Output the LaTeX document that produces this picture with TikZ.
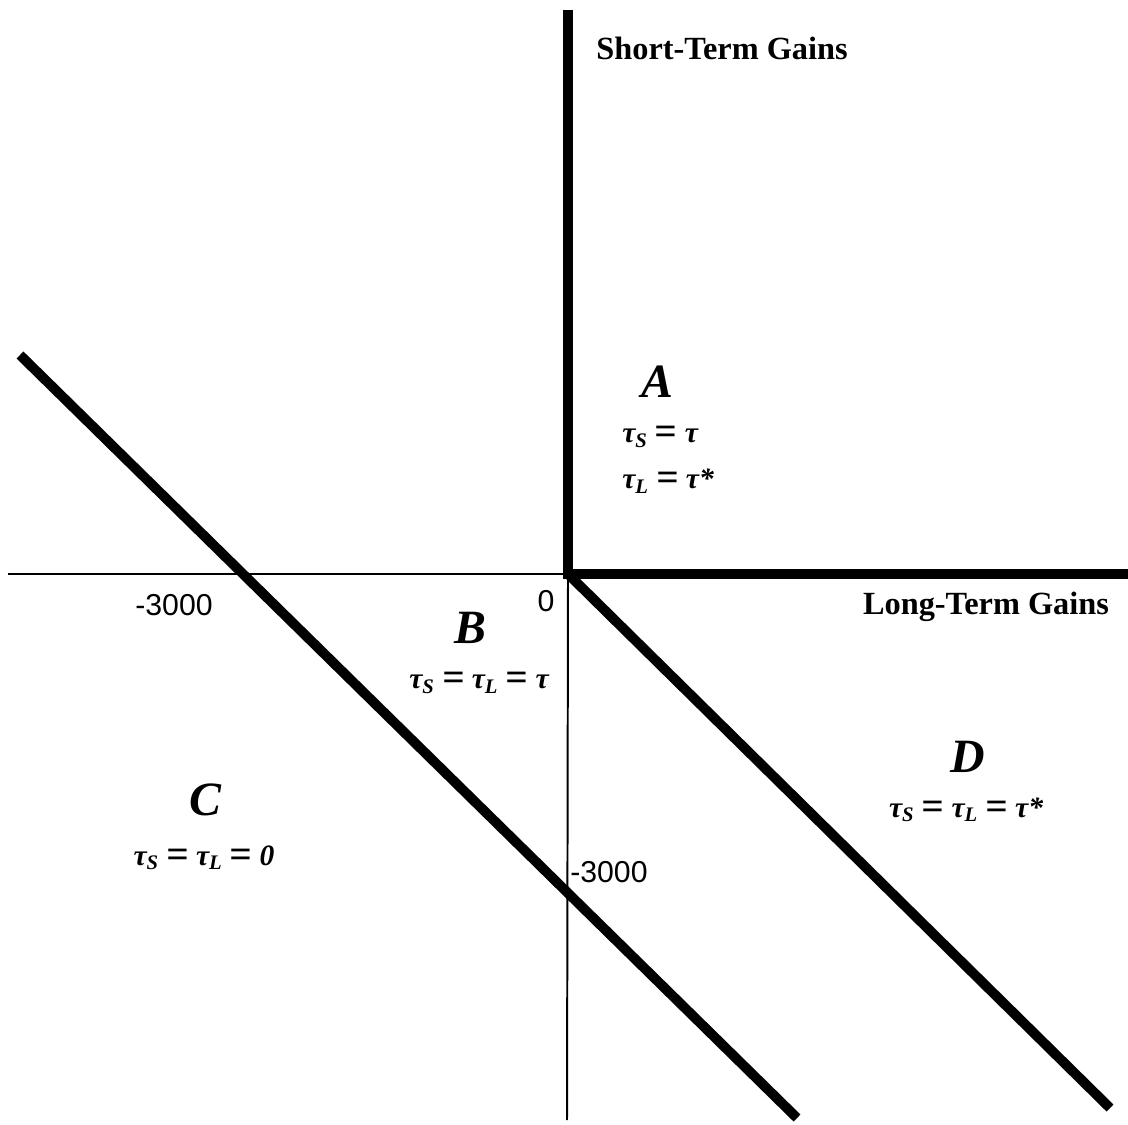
\documentclass[tikz,border=0pt]{standalone}
\usepackage{fontspec}
\setmainfont{Liberation Serif}
\newfontfamily\numfont{Liberation Sans}
\usetikzlibrary{positioning}

\newcommand{\taus}{τ\textsubscript{S}}
\newcommand{\taul}{τ\textsubscript{L}}
\newcommand{\eqs}{\ \raisebox{-1.5pt}{\fontsize{28}{28}\selectfont=}\ }

\begin{document}
\begin{tikzpicture}[
  x=0.025cm, y=-0.025cm,
  axis/.style={line width=1.4pt},
  bound/.style={line width=7pt},
  axislabel/.style={font=\bfseries\fontsize{23}{26}\selectfont, inner sep=0pt},
  ticklabel/.style={font=\numfont\fontsize{21.5}{24}\selectfont, inner sep=0pt},
  region/.style={font=\bfseries\itshape\fontsize{34}{38}\selectfont, inner sep=0pt},
  rate/.style={font=\bfseries\itshape\fontsize{21}{26}\selectfont, inner sep=0pt},
]
  \useasboundingbox (0,0) rectangle (1128,1124);

  % axes
  \coordinate (origin) at (568,574);
  \coordinate (ytop) at (568,10);
  \coordinate (ybot) at (567,1120);
  \coordinate (xleft) at (8,574);
  \coordinate (xright) at (1128,574);
  \draw [axis] (xleft) -- (origin);
  \draw [axis] (origin) -- (ybot);
  \draw [bound] (ytop) -- (origin) -- (xright);

  % diagonal boundaries
  \coordinate (cstart) at (20,355);
  \coordinate (cend) at (797,1118);
  \coordinate (dend) at (1110,1108);
  \draw [bound] (cstart) -- (cend);
  \draw [bound] (origin) -- (dend);

  % axis labels
  \node (stg) [axislabel] at (722,48) {Short-Term Gains};
  \node (ltg) [axislabel] at (986,607) {Long-Term Gains};
  \node (xtick) [ticklabel] at (174,605) {-3000};
  \node (zero) [ticklabel] at (546,601) {0};
  \node (ytick) [ticklabel, anchor=west] at (570,872) {-3000};

  % regions
  \node (A) [region] at (657,382) {A};
  \node (rateA1) [rate, anchor=west] at (622,437) {\taus\eqs τ};
  \node (rateA2) [rate, anchor=west] at (622,481) {\taul\eqs τ*};
  \node (B) [region] at (470,628) {B};
  \node (rateB) [rate] at (479,683) {\taus\eqs\taul\eqs τ};
  \node (C) [region] at (205,800) {C};
  \node (rateC) [rate] at (204,858) {\taus\eqs\taul\eqs 0};
  \node (D) [region] at (968,757) {D};
  \node (rateD) [rate] at (966,810) {\taus\eqs\taul\eqs τ*};
\end{tikzpicture}
\end{document}
